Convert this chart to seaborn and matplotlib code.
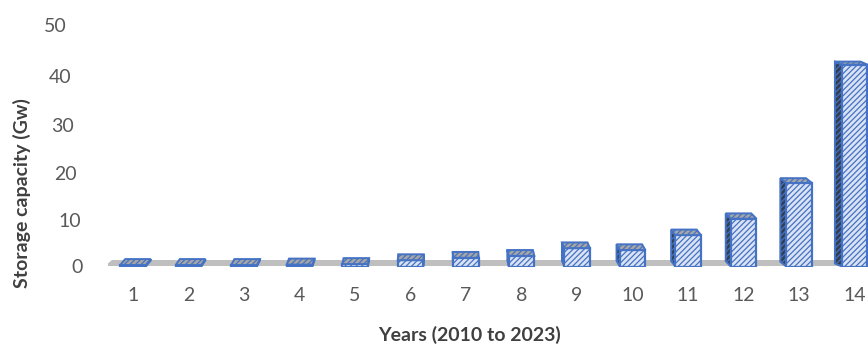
import matplotlib
matplotlib.use("Agg")
import matplotlib.pyplot as plt
import seaborn as sns
import pandas as pd
from matplotlib.patches import Polygon, Rectangle
from matplotlib.transforms import ScaledTranslation

# Storage capacity by year index (1 = 2010 ... 14 = 2023)
years = [str(i) for i in range(1, 15)]
capacity = [0.3, 0.3, 0.3, 0.4, 0.5, 1.3, 1.8, 2.2, 3.8, 3.4, 6.5, 9.9, 17.3, 41.8]
y_ticks = [0, 10, 20, 30, 40, 50]

FRONT = "#dae3f3"
EDGE = "#4472c4"
SIDE = "#333f50"
TOP = "#a6a6a6"
FLOOR = "#bfbfbf"
TEXT = "#595959"

sns.set_theme(style="white")
plt.rcParams["font.family"] = ["Lato", "DejaVu Sans"]
plt.rcParams["hatch.linewidth"] = 0.9

W, H = 868, 347
fig = plt.figure(figsize=(W / 100, H / 100), dpi=100)
ax_l, ax_r, ax_b, ax_t = 108, 868, 266.5, 25
ax = fig.add_axes([ax_l / W, (H - ax_b) / H, (ax_r - ax_l) / W, (ax_b - ax_t) / H])

df = pd.DataFrame({"year": years, "capacity": capacity})
sns.barplot(data=df, x="year", y="capacity", color=FRONT, width=0.46,
            saturation=1, ax=ax, zorder=3)
bars = [p for p in ax.patches if isinstance(p, Rectangle)]

ax.set_xlim(-0.45, 13.24)
ax.set_ylim(0, 50)

# pixel -> data conversions for the pseudo-3D depth
px_x = (ax_r - ax_l) / (13.24 + 0.45)
px_y = (ax_b - ax_t) / 50.0

# floor slab
ax.add_patch(Polygon([(-0.5, 0.1), (14, 0.1), (14, 1.3), (-0.38, 1.3)],
                     closed=True, facecolor=FLOOR, edgecolor="none", zorder=1))

for i, bar in enumerate(bars):
    bar.set_edgecolor(EDGE)
    bar.set_linewidth(1.6)
    bar.set_hatch("//////")
    x0 = bar.get_x()
    x1 = x0 + bar.get_width()
    h = bar.get_height()
    dx = (5 - 12 * i / 13) / px_x
    dy = (6 - 3 * h / 42) / px_y
    # side face, on the side facing the viewer
    xs = x0 if dx < 0 else x1
    side = Polygon([(xs, 0), (xs, h), (xs + dx, h + dy), (xs + dx, dy)],
                   closed=True, facecolor=SIDE, edgecolor=EDGE, hatch="//////",
                   linewidth=1.4, zorder=2.5)
    ax.add_patch(side)
    top = Polygon([(x0, h), (x1, h), (x1 + dx, h + dy), (x0 + dx, h + dy)],
                  closed=True, facecolor=TOP, edgecolor=EDGE, hatch="//////",
                  linewidth=1.4, zorder=3.5)
    ax.add_patch(top)

for s in ax.spines.values():
    s.set_visible(False)
ax.grid(False)
ax.tick_params(axis="both", length=0)
ax.tick_params(axis="x", pad=15, labelsize=14, labelcolor=TEXT)
ax.tick_params(axis="y", pad=18, labelsize=14, labelcolor=TEXT)
ax.set_yticks(y_ticks)
ax.set_yticklabels([str(v) for v in y_ticks])

# y tick labels follow the receding back wall
shifts = {0: (0, -0.5), 10: (-2, 1.8), 20: (-6, 3.1), 30: (-9, 3.4), 40: (-12, 2.7), 50: (-16, 0)}
for lab, v in zip(ax.get_yticklabels(), y_ticks):
    dxp, dyp = shifts[v]
    lab.set_transform(lab.get_transform() +
                      ScaledTranslation(dxp / 100, -dyp / 100, fig.dpi_scale_trans))

ax.set_xlabel("Years (2010 to 2023)", fontsize=14, fontweight="bold", color="#404040")
ax.set_ylabel("Storage capacity (Gw)", fontsize=14, fontweight="bold", color="#404040")
ax.xaxis.set_label_coords((470 - ax_l) / (ax_r - ax_l), (ax_b - 335) / (ax_b - ax_t))
ax.yaxis.set_label_coords((22 - ax_l) / (ax_r - ax_l), (ax_b - 193) / (ax_b - ax_t))
ax.xaxis.label.set_va("center")
ax.yaxis.label.set_va("center")

fig.savefig("out.png", dpi=100)
